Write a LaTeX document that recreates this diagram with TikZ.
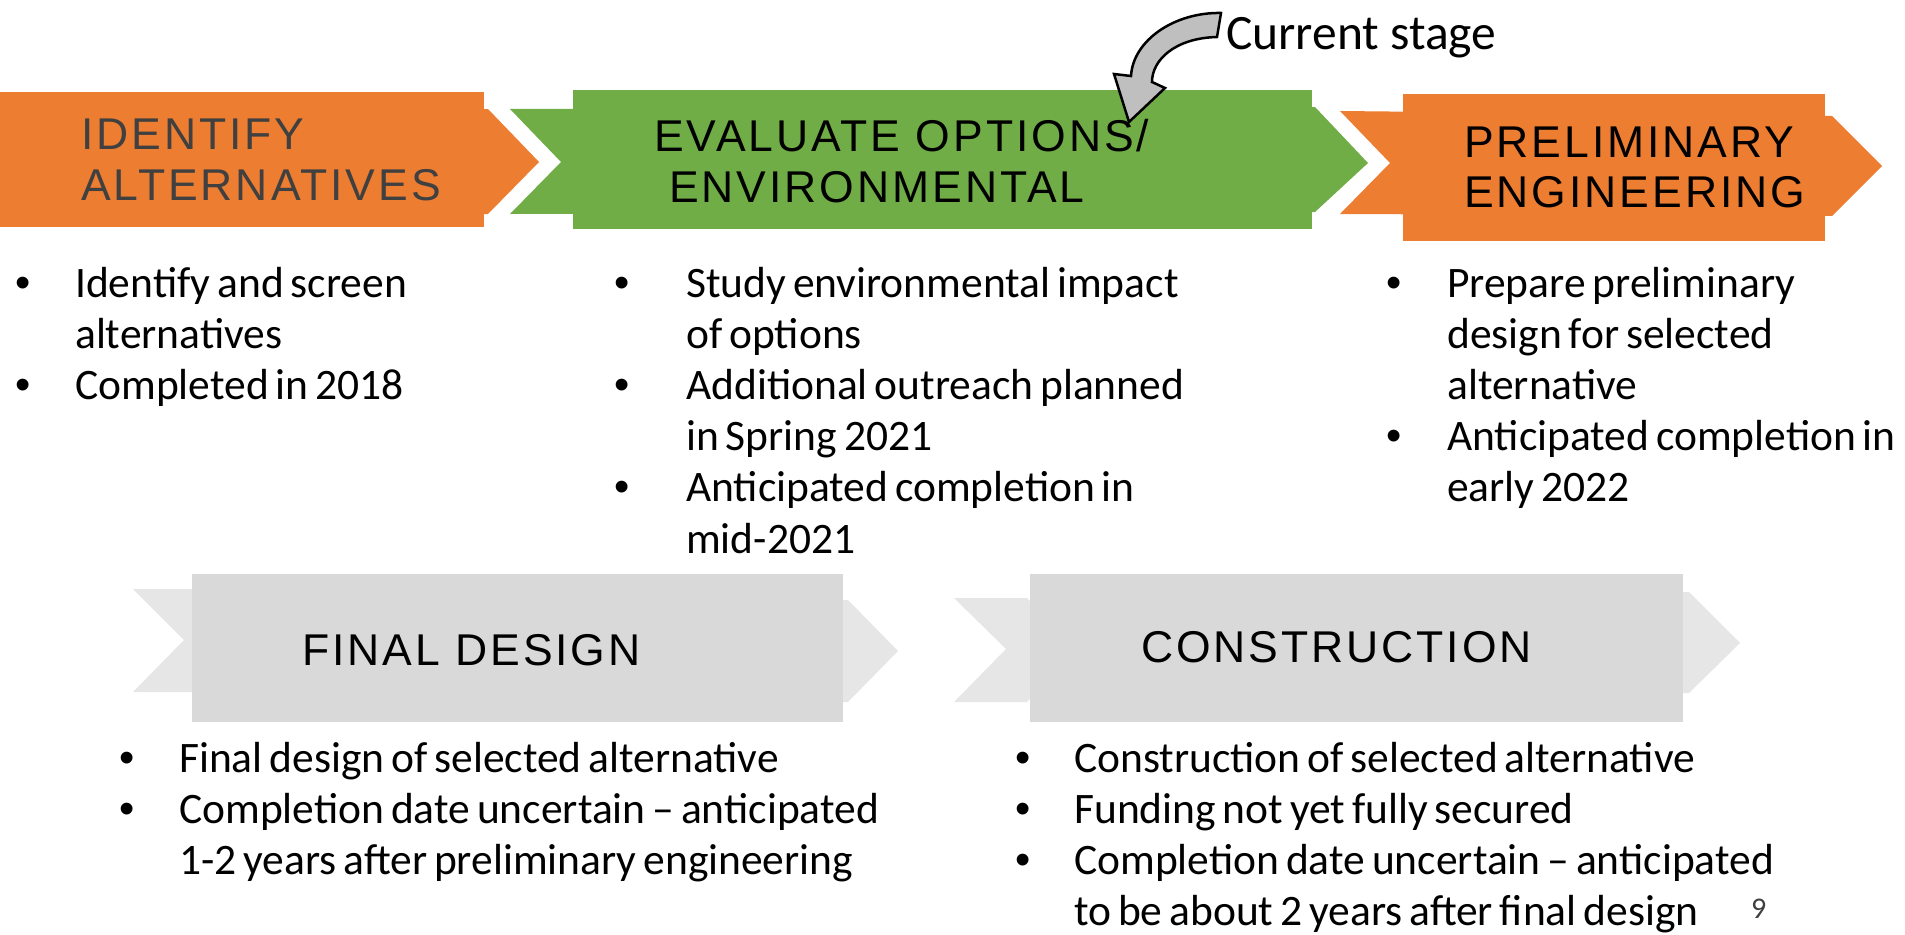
\documentclass[tikz,border=0pt]{standalone}
\usepackage{fontspec}
\setmainfont{Carlito}[WordSpace=0.7]
\newfontfamily\csfont{Carlito}
\newfontfamily\hdfont[LetterSpace=6.6]{Liberation Sans}
\newfontfamily\blfont{Liberation Sans}
\definecolor{sorange}{HTML}{ED7D31}
\definecolor{sgreen}{HTML}{70AD47}
\definecolor{rectgray}{HTML}{D9D9D9}
\definecolor{chevgray}{HTML}{E7E6E6}
\definecolor{arrgray}{HTML}{BFBFBF}
\definecolor{hdgray}{HTML}{404040}
\newcommand\bul[1]{\makebox[#1][l]{\blfont •}}
\tikzset{
  hd/.style={font=\hdfont\fontsize{44.5}{51}\selectfont, anchor=base west, inner sep=0pt},
  bl/.style={font=\fontsize{43.5}{51.2}\selectfont, anchor=base west, inner sep=0pt},
  blb/.style={font=\fontsize{43.5}{51}\selectfont, anchor=base west, inner sep=0pt},
  pg/.style={font=\fontsize{30}{34}\selectfont, anchor=base west, inner sep=0pt, text=hdgray},
}
\begin{document}
\begin{tikzpicture}[x=1pt,y=-1pt]
\useasboundingbox (0,0) rectangle (1905,934);
% ---------- top row ----------
\fill[sorange] (0,109) -- (488,109) -- (539,162) -- (488,214) -- (0,214) -- cycle;
\fill[sorange] (0,92) rectangle (484,227);
\fill[sgreen] (510,109) -- (1315,107) -- (1368,163) -- (1315,212) -- (510,214) -- (561,162) -- cycle;
\fill[sgreen] (573,90) rectangle (1312,229);
\fill[sorange] (1340,111) -- (1832,116) -- (1882,166) -- (1832,216) -- (1340,214) -- (1390,163) -- cycle;
\fill[sorange] (1403,94) rectangle (1825,241);
% ---------- bottom row ----------
\fill[chevgray] (133,589) -- (199,589) -- (251,640) -- (199,692) -- (133,692) -- (184,640) -- cycle;
\fill[chevgray] (790,600) -- (848,600) -- (898,651) -- (848,702) -- (790,702) -- (840,651) -- cycle;
\fill[rectgray] (192,574) rectangle (843,722);
\fill[chevgray] (954,598) -- (1027,598) -- (1077,649) -- (1027,702) -- (954,702) -- (1006,649) -- cycle;
\fill[chevgray] (1623,592) -- (1689,592) -- (1740,643) -- (1689,693) -- (1623,693) -- (1674,643) -- cycle;
\fill[rectgray] (1030,574) rectangle (1683,722);
% ---------- headers ----------
\node[hd, text=hdgray] (h1a) at (81,149) {IDENTIFY};
\node[hd, text=hdgray] (h1b) at (81,200) {ALTERNATIVES};
\node[hd] (h2a) at (654,151) {EVALUATE OPTIONS/};
\node[hd] (h2b) at (669,202) {ENVIRONMENTAL};
\node[hd] (h3a) at (1464,157) {PRELIMINARY};
\node[hd] (h3b) at (1464,207) {ENGINEERING};
\node[hd] (h4) at (302,665) {FINAL DESIGN};
\node[hd] (h5) at (1141,662) {CONSTRUCTION};
% ---------- bullet lists ----------
\node[bl] (b1) at (15,297) {\begin{tabular}[t]{@{}l@{}l@{}}
\bul{60pt} & Identify and screen\\
 & alternatives\\
\bul{60pt} & Completed in 2018
\end{tabular}};
\node[bl] (b2) at (614,297) {\begin{tabular}[t]{@{}l@{}l@{}}
\bul{72pt} & Study environmental impact\\
 & of options\\
\bul{72pt} & Additional outreach planned\\
 & in Spring 2021\\
\bul{72pt} & Anticipated completion in\\
 & mid-2021
\end{tabular}};
\node[bl] (b3) at (1386,297) {\begin{tabular}[t]{@{}l@{}l@{}}
\bul{61pt} & Prepare preliminary\\
 & design for selected\\
 & alternative\\
\bul{61pt} & Anticipated completion in\\
 & early 2022
\end{tabular}};
\node[blb] (b4) at (119,772) {\begin{tabular}[t]{@{}l@{}l@{}}
\bul{60pt} & Final design of selected alternative\\
\bul{60pt} & Completion date uncertain – anticipated\\
 & 1-2 years after preliminary engineering
\end{tabular}};
\node[blb] (b5) at (1015,772) {\begin{tabular}[t]{@{}l@{}l@{}}
\bul{59pt} & Construction of selected alternative\\
\bul{59pt} & Funding not yet fully secured\\
\bul{59pt} & Completion date uncertain – anticipated\\
 & to be about 2 years after final design
\end{tabular}};
\node[pg] (pnum) at (1751,918) {9};
% ---------- current stage ----------
\node[font=\csfont\fontsize{49.5}{56}\selectfont, anchor=base west, inner sep=0pt] (cs) at (1226,49) {Current stage};
\draw[fill=arrgray, draw=black, line width=2.5pt, line join=miter] (1221,13) .. controls (1175,12) and (1133,40) .. (1131,76)
  -- (1114,74) -- (1129,122) -- (1165,88) -- (1152,82)
  .. controls (1152,60) and (1175,38) .. (1217,37) -- cycle;
\end{tikzpicture}
\end{document}
